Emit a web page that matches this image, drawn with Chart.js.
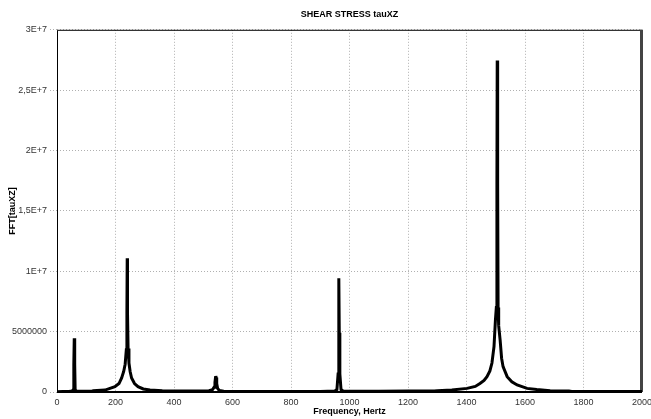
<!DOCTYPE html>
<html lang="en">
<head>
  <meta charset="UTF-8">
  <title>SHEAR STRESS tauXZ</title>
  <script src="https://cdn.jsdelivr.net/npm/chart.js"></script>
  <style>
    body { margin: 0; background: #fff; }
    .box { width: 651px; height: 419px; }
  </style>
</head>
<body>
  <div class="box">
    <canvas id="fftChart"></canvas>
  </div>

  <script>
    // spectrum
    const freqHz = [
      0, 20, 40, 52, 56, 57, 58, 59, 60, 61, 62, 66, 90, 120, 124, 164, 198, 212, 221, 228,
      233, 237, 239, 240, 241, 243, 246, 250, 255, 265, 277, 295, 318, 360, 440, 520, 532, 537,
      540, 542, 543, 544, 546, 549, 555, 570, 650, 800, 900, 950, 957, 961, 963, 964, 965,
      967, 971, 978, 1000, 1100, 1200, 1290, 1300, 1350, 1402, 1430, 1446, 1460, 1470, 1480,
      1487, 1494, 1499, 1502, 1504, 1505, 1506, 1507, 1508, 1510, 1515, 1520, 1525, 1539,
      1555, 1573, 1607, 1640, 1686, 1750, 1760, 1850, 2000
    ];
    const fftAmp = [
      3e4, 4e4, 5e4, 8e4, 2e5, 2.3e6, 2.3e6, 4.45e6, 2.3e6, 2.3e6, 2e5, 8e4, 6e4, 7e4, 1.1e5, 1.6e5, 4.4e5, 7e5, 1.16e6, 1.7e6,
      2.3e6, 3.5e6, 6.6e6, 1.108e7, 6.6e6, 3.6e6, 2.4e6, 1.7e6, 1.16e6, 7e5, 4.4e5, 2.5e5, 1.6e5, 1.1e5, 9e4, 1e5, 2e5, 4e5,
      8e5, 1.2e6, 1.33e6, 1.2e6, 7e5, 3e5, 1.2e5, 7e4, 5e4, 5e4, 5e4, 8e4, 2e5, 1.5e6, 4.9e6, 9.42e6, 4.9e6,
      1.5e6, 2e5, 8e4, 7e4, 7e4, 8e4, 8e4, 1e5, 1.6e5, 3e5, 4.6e5, 7e5, 9.5e5, 1.27e6, 1.75e6,
      2.4e6, 3.75e6, 6e6, 7e6, 1.73e7, 2.745e7, 2.15e7, 1.73e7, 7e6, 5.5e6, 4.3e6, 2.8e6, 2.1e6, 1.27e6,
      8.5e5, 5.8e5, 3e5, 2e5, 1.1e5, 9e4, 5e4, 5e4, 5e4
    ];

    const xTickVals = [0, 200, 400, 600, 800, 1000, 1200, 1400, 1600, 1800, 2000];
    const yTickVals = [0, 5e6, 1e7, 1.5e7, 2e7, 2.5e7, 3e7];
    const yTickText = ['0', '5000000', '1E+7', '1,5E+7', '2E+7', '2,5E+7', '3E+7'];

    const points = freqHz.map((f, i) => ({ x: f, y: fftAmp[i] }));

    const labelFont = { family: "'Liberation Sans', Arial, sans-serif", size: 9 };
    const boldFont = { family: "'Liberation Sans', Arial, sans-serif", size: 9, weight: 'bold' };

    // frame round the plot: thin black left/top, heavier right/bottom
    const framePlugin = {
      id: 'frame',
      beforeDatasetsDraw(chart) {
        const { ctx, chartArea: a } = chart;
        ctx.save();
        ctx.strokeStyle = '#000';
        ctx.lineWidth = 1;
        ctx.beginPath();
        ctx.moveTo(a.left + 0.5, a.bottom);
        ctx.lineTo(a.left + 0.5, a.top + 0.5);
        ctx.lineTo(a.right, a.top + 0.5);
        ctx.stroke();
        ctx.strokeStyle = '#444';
        ctx.lineWidth = 3;
        ctx.beginPath();
        ctx.moveTo(a.right - 0.5, a.top);
        ctx.lineTo(a.right - 0.5, a.bottom);
        ctx.stroke();
        ctx.strokeStyle = '#000';
        ctx.lineWidth = 2;
        ctx.beginPath();
        ctx.moveTo(a.left, a.bottom);
        ctx.lineTo(a.right, a.bottom);
        ctx.stroke();
        ctx.restore();
      }
    };

    new Chart(document.getElementById('fftChart'), {
      type: 'line',
      data: {
        datasets: [{
          data: points,
          borderColor: '#000',
          borderWidth: 3,
          pointRadius: 0,
          tension: 0,
          fill: false
        }]
      },
      options: {
        responsive: true,
        maintainAspectRatio: false,
        animation: false,
        layout: { padding: { left: 0, top: 0, right: 9, bottom: 0 } },
        plugins: {
          legend: { display: false },
          tooltip: { enabled: false },
          title: {
            display: true,
            fullSize: false,
            text: 'SHEAR STRESS tauXZ',
            color: '#000',
            font: boldFont,
            padding: { top: 9, bottom: 10 }
          }
        },
        scales: {
          x: {
            type: 'linear',
            min: 0,
            max: 2000,
            afterBuildTicks: (scale) => { scale.ticks = xTickVals.map(v => ({ value: v })); },
            afterFit: (scale) => {
              scale.height = 27;
              scale.paddingLeft = 0;
              scale.paddingRight = 0;
            },
            border: { display: false, dash: [1, 2] },
            grid: { color: '#b0b0b0', drawTicks: false },
            ticks: {
              color: '#333',
              font: labelFont,
              padding: 5,
              maxRotation: 0,
              autoSkip: false,
              callback: (v) => String(v)
            },
            title: { display: true, text: 'Frequency, Hertz', color: '#000', font: boldFont, padding: { top: 0, bottom: 2 } }
          },
          y: {
            min: 0,
            max: 3e7,
            afterBuildTicks: (scale) => { scale.ticks = yTickVals.map(v => ({ value: v })); },
            afterFit: (scale) => { scale.width = 57; },
            border: { display: false, dash: [1, 2] },
            grid: { color: '#b0b0b0', tickBorderDash: [1, 2], tickLength: 7 },
            ticks: {
              color: '#333',
              font: labelFont,
              padding: 3,
              callback: (v) => yTickText[yTickVals.indexOf(v)]
            },
            title: { display: true, text: 'FFT[tauXZ]', color: '#000', font: boldFont, padding: { top: 7, bottom: 0 } }
          }
        }
      },
      plugins: [framePlugin]
    });
  </script>
</body>
</html>
